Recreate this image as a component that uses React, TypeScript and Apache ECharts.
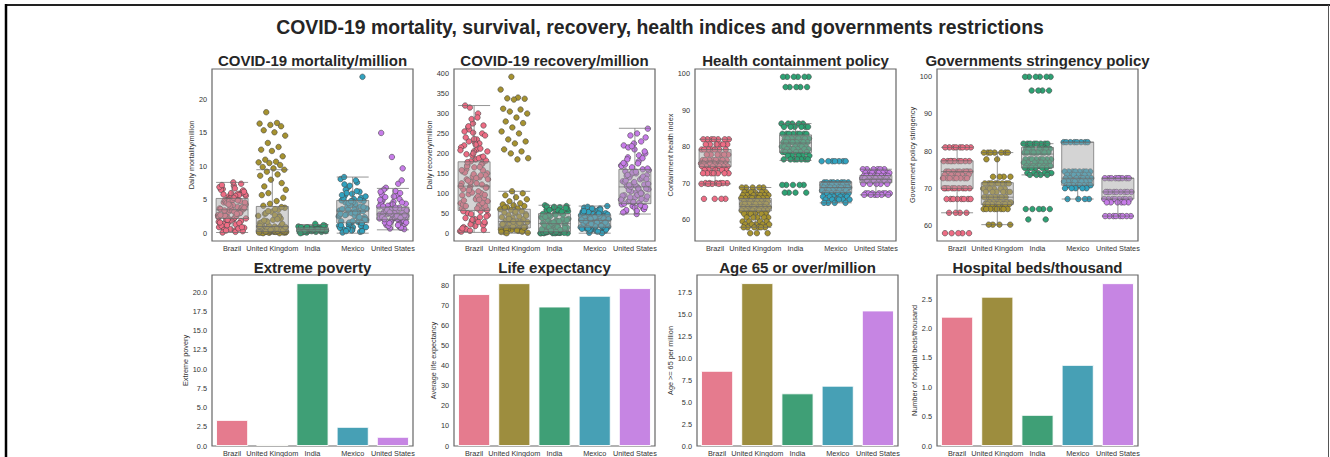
import React, { useEffect, useRef } from 'react';
import * as echarts from 'echarts';

const FONT = '"Liberation Sans", Arial, Helvetica, sans-serif';

const countries = ['Brazil', 'United Kingdom', 'India', 'Mexico', 'United States'];
const pointColors = ['#ee6c84', '#a6922f', '#2ea274', '#31a2bf', '#c77ce9'];
const barColors = ['#e57b8e', '#9d8d3e', '#3f9f76', '#47a0b5', '#c685e3'];

const mainTitle = 'COVID-19 mortality, survival, recovery, health indices and governments restrictions';

// ---- COVID-19 mortality / million (daily) ----
const mortBrazil = [3.2, 5.6, 0.4, 2.8, 6.1, 4.4, 1.2, 3.9, 5.0, 0.8, 2.1, 6.6, 4.8, 3.5, 1.7, 5.3, 2.5, 0.3, 4.1, 6.9, 3.0, 1.5, 5.8, 2.3, 4.6, 7.4, 0.6, 3.7, 5.1, 2.0, 6.3, 4.2, 1.0, 3.3, 5.5, 2.7, 0.2, 4.9, 6.0, 1.9, 3.6, 5.9, 2.4, 4.0, 7.1, 1.4, 3.1, 5.2, 0.9, 2.6, 4.7, 6.4, 3.4, 1.1, 5.7, 2.2, 4.3, 6.7, 0.5, 3.8, 5.4, 1.6, 2.9, 4.5, 6.2, 7.6, 0.1, 3.0, 4.8, 2.4, 1.3, 2.6, 3.9, 5.5, 6.5, 0.7, 2.0, 4.6, 3.2, 5.8, 1.8, 4.1, 6.9, 2.9, 0.4, 3.6, 5.0, 7.2, 1.5, 4.3, 2.2, 5.6, 3.4, 0.9, 6.0, 2.7, 4.9, 1.2, 3.8, 5.3];
const mortUK = [0.1, 0.2, 0.1, 0.3, 0.4, 0.2, 0.5, 0.6, 0.3, 0.8, 0.9, 0.1, 1.0, 0.7, 1.2, 0.4, 1.5, 0.2, 1.8, 0.6, 2.0, 0.3, 2.3, 1.1, 2.6, 0.5, 2.9, 1.4, 3.2, 0.8, 3.5, 1.7, 3.8, 0.2, 4.1, 2.2, 4.4, 1.0, 4.8, 3.0, 5.3, 0.4, 5.7, 2.6, 6.0, 6.5, 3.6, 7.0, 7.5, 8.0, 8.6, 8.8, 9.2, 9.5, 9.7, 9.9, 10.2, 10.5, 10.6, 10.7, 11.0, 11.5, 12.3, 12.5, 12.9, 13.5, 14.6, 15.1, 15.4, 16.0, 16.2, 16.4, 16.5, 18.1, 0.1, 0.3, 1.3, 0.0, 0.1, 0.2, 0.2, 0.3, 0.4, 0.5, 0.1, 0.3, 0.6, 0.2, 0.4, 0.0, 0.5, 0.3, 0.1, 0.7, 0.2, 0.4, 0.6, 1.6, 2.4, 3.3, 0.9, 2.7, 1.9, 3.9, 0.5, 1.1, 2.1];
const mortIndia = [0.3, 0.5, 0.7, 0.2, 0.6, 0.4, 0.9, 0.1, 0.5, 0.8, 0.3, 0.6, 0.4, 1.0, 0.2, 0.7, 0.5, 0.3, 0.9, 0.6, 0.4, 1.1, 0.5, 0.2, 0.8, 0.6, 0.3, 0.7, 0.4, 1.2, 0.5, 0.1, 0.6, 0.8, 0.4, 1.4, 0.3, 0.5, 0.7, 0.0, 0.6, 0.9];
const mortMexico = [0.2, 1.0, 2.5, 3.8, 4.6, 0.7, 5.9, 1.8, 3.1, 6.8, 2.2, 4.1, 0.4, 5.3, 1.5, 3.4, 7.6, 2.8, 4.8, 0.9, 3.6, 6.2, 1.3, 2.0, 4.4, 5.6, 0.3, 3.0, 8.1, 1.7, 3.9, 2.4, 5.1, 0.6, 4.0, 7.1, 1.1, 2.9, 6.5, 3.3, 0.5, 4.9, 1.9, 3.5, 5.5, 2.6, 8.4, 1.4, 4.3, 0.8, 3.2, 6.0, 2.1, 4.7, 0.1, 5.0, 1.6, 3.7, 7.9, 2.7, 23.4, 0.4, 1.2, 2.3, 0.6, 2.0, 3.5, 5.2, 1.1, 4.2, 2.7, 6.3, 0.3, 3.9, 1.8, 5.7, 2.4, 4.5, 0.9, 3.1, 7.3, 1.5, 4.8, 2.9];
const mortUS = [2.5, 3.1, 1.8, 4.2, 2.8, 5.6, 1.2, 3.5, 2.2, 4.8, 0.9, 3.9, 2.6, 6.3, 1.6, 3.0, 2.0, 4.5, 7.4, 2.9, 1.4, 3.6, 5.2, 2.4, 0.7, 4.0, 3.3, 6.8, 1.9, 2.7, 5.8, 3.8, 1.1, 4.4, 2.3, 3.2, 7.9, 1.7, 5.0, 2.1, 3.7, 0.6, 4.7, 2.8, 6.0, 1.5, 3.4, 2.5, 5.4, 9.7, 11.4, 15.0, 1.3, 4.1, 2.0, 3.0, 6.5, 0.8, 3.6, 2.2, 2.6, 3.3, 1.9, 4.3, 2.4, 5.1, 3.0, 1.6, 3.8, 2.1, 4.6, 2.9, 6.2, 1.2, 3.5, 2.7, 5.5, 4.0, 2.3, 3.1];
// box stats: [low whisker, Q1, median, Q3, high whisker]
const mortBoxes = [[0.1, 2.2, 3.5, 5.2, 7.6], [0.0, 0.25, 1.0, 4.0, 9.5], [0.0, 0.3, 0.55, 0.8, 1.3], [0.0, 1.55, 3.3, 4.9, 8.4], [0.5, 2.0, 2.9, 3.9, 6.7]];
const mortTicks = [0, 5, 10, 15, 20];

// ---- COVID-19 recovery / million (daily) ----
const recBrazil = [118, 45, 210, 160, 8, 275, 95, 140, 230, 60, 185, 12, 250, 130, 75, 300, 170, 25, 205, 110, 55, 315, 150, 88, 240, 20, 195, 125, 70, 265, 145, 35, 220, 100, 180, 5, 290, 135, 65, 200, 155, 40, 260, 115, 85, 320, 175, 30, 215, 105, 50, 245, 165, 15, 190, 128, 80, 235, 10, 270, 142, 62, 225, 98, 182, 18, 255, 122, 48, 208, 92, 168, 28, 148, 72, 212, 112, 58, 138, 38, 158, 102, 4, 188, 132, 68, 228, 82, 172, 22, 135, 62, 198, 88, 252, 12, 166, 108, 42, 222, 152, 76, 286, 118, 28, 178, 96, 236, 55, 145, 6, 205, 125, 68, 192, 34, 158, 84, 268, 114];
const recUK = [2, 5, 8, 10, 12, 14, 16, 18, 20, 22, 25, 28, 30, 32, 35, 38, 40, 42, 45, 48, 50, 52, 55, 58, 60, 62, 65, 68, 70, 72, 75, 80, 85, 90, 95, 100, 105, 3, 6, 9, 15, 19, 24, 27, 33, 1, 7, 11, 13, 17, 21, 26, 36, 44, 54, 64, 4, 392, 360, 340, 338, 337, 335, 312, 310, 305, 300, 290, 280, 276, 265, 255, 250, 235, 230, 225, 210, 205, 200, 188, 185, 0, 14, 29, 23];
const recIndia = [0, 1, 2, 3, 0, 5, 1, 4, 8, 2, 12, 6, 15, 0, 18, 3, 22, 9, 25, 1, 28, 14, 32, 5, 35, 20, 40, 2, 44, 26, 48, 0, 52, 11, 55, 30, 58, 7, 62, 38, 65, 16, 68, 46, 70, 4, 24, 0, 57, 34, 13, 66, 1, 50, 42, 61, 19, 3, 47, 2, 10, 30, 45, 63, 0, 21, 54, 6, 36, 15, 67, 1, 27, 48, 8, 58, 33, 3, 41];
const recMexico = [2, 8, 15, 22, 30, 35, 40, 46, 52, 60, 68, 5, 12, 18, 25, 32, 38, 44, 50, 56, 64, 3, 10, 16, 28, 34, 42, 48, 54, 62, 1, 14, 20, 26, 31, 36, 45, 58, 66, 6, 19, 24, 33, 39, 47, 27, 29, 37, 21, 11, 43, 53, 9, 17, 41, 0, 23, 35, 4, 13, 26, 38, 51, 59, 7, 22, 44, 30, 16, 62, 34, 49, 12, 27, 40, 55, 18, 36];
const recUS = [48, 55, 62, 68, 72, 76, 80, 85, 90, 95, 100, 105, 110, 115, 118, 122, 126, 130, 135, 140, 145, 150, 155, 160, 165, 170, 180, 190, 200, 210, 220, 230, 245, 262, 250, 58, 66, 78, 88, 98, 108, 112, 120, 128, 138, 148, 158, 175, 185, 205, 225, 52, 70, 82, 92, 102, 132, 142, 152, 168, 195, 215, 240, 64, 74, 86, 116, 124, 96, 144, 60, 78, 94, 104, 120, 136, 154, 172, 188, 218, 84, 112, 146, 66, 128, 176, 100, 90, 162, 56];
const recBoxes = [[2, 57, 118, 179, 320], [0, 13, 29, 60, 105], [0, 4, 24, 49, 70], [0, 15, 32, 46, 68], [48, 74, 116, 160, 263]];
const recTicks = [0, 50, 100, 150, 200, 250, 300, 350, 400];

// ---- Containment health index: [level, number of days] ----
const hcBrazil = [[82.0, 7], [80.6, 6], [79.2, 7], [77.8, 6], [76.3, 8], [75.4, 9], [74.6, 7], [73.6, 5], [72.7, 7], [70.0, 6], [69.8, 4], [65.7, 4]];
const hcUK = [[68.8, 5], [67.5, 6], [66.7, 7], [65.9, 8], [65.0, 8], [64.3, 9], [63.4, 9], [62.5, 8], [61.6, 6], [60.6, 5], [59.5, 4], [58.7, 5], [57.9, 6], [56.3, 3]];
const hcIndia = [[99.1, 6], [96.3, 5], [86.3, 5], [85.4, 6], [83.5, 8], [82.2, 8], [81.2, 9], [80.0, 7], [79.3, 6], [78.5, 6], [77.5, 5], [76.5, 7], [69.5, 5], [67.4, 4]];
const hcMexico = [[76.0, 7], [70.2, 8], [69.5, 8], [68.8, 9], [68.0, 8], [67.2, 7], [66.3, 6], [65.5, 6], [64.6, 4]];
const hcUS = [[73.8, 6], [72.8, 8], [72.0, 9], [71.3, 8], [70.6, 7], [69.8, 5], [67.2, 7], [66.8, 6]];
const hcBoxes = [[69.8, 74.5, 75.8, 79.2, 82.0], [57.9, 62.4, 63.6, 65.8, 68.8], [76.2, 78.4, 81.0, 83.2, 86.3], [64.6, 67.4, 68.8, 70.3, 70.4], [66.8, 70.1, 71.0, 72.1, 73.8]];
const hcTicks = [60, 70, 80, 90, 100];

// ---- Government stringency index: [level, number of days] ----
const gsBrazil = [[81.0, 8], [77.3, 9], [74.5, 9], [73.6, 6], [72.7, 8], [70.0, 9], [67.1, 8], [63.4, 4], [57.9, 5]];
const gsUK = [[79.6, 7], [77.8, 2], [73.1, 4], [71.3, 8], [69.9, 6], [69.0, 6], [67.6, 7], [66.2, 9], [65.7, 8], [64.4, 8], [60.2, 4]];
const gsIndia = [[100.0, 6], [96.3, 4], [82.0, 8], [80.6, 7], [79.6, 9], [77.8, 8], [76.9, 7], [76.0, 8], [75.5, 6], [74.1, 6], [73.6, 4], [64.4, 5], [61.6, 2]];
const gsMexico = [[82.4, 8], [74.5, 8], [73.6, 7], [72.7, 7], [71.8, 8], [70.8, 9], [70.0, 5], [67.1, 4]];
const gsUS = [[72.7, 9], [69.0, 9], [67.1, 8], [66.2, 6], [62.5, 8]];
const gsBoxes = [[63.4, 69.9, 74.5, 77.4, 81.0], [60.2, 65.6, 67.6, 71.5, 79.6], [73.6, 75.5, 79.2, 81.0, 82.0], [67.1, 70.8, 72.7, 82.4, 82.4], [62.5, 67.1, 69.0, 72.7, 72.7]];
const gsTicks = [60, 70, 80, 90, 100];

// ---- Country indicators (bars) ----
const poverty = [3.4, 0.2, 21.2, 2.5, 1.2];
const lifeExp = [75.88, 81.32, 69.66, 75.05, 78.86];
const aged65 = [8.55, 18.52, 5.99, 6.86, 15.41];
const beds = [2.2, 2.54, 0.53, 1.38, 2.77];
const povTicks = [0, 2.5, 5, 7.5, 10, 12.5, 15, 17.5, 20];
const lifeTicks = [0, 10, 20, 30, 40, 50, 60, 70, 80];
const ageTicks = [0, 2.5, 5, 7.5, 10, 12.5, 15, 17.5];
const bedsTicks = [0, 0.5, 1, 1.5, 2, 2.5];

const expand = (rle: number[][]) => {
  const out: number[] = [];
  rle.forEach(([v, n]) => { for (let i = 0; i < n; i++) out.push(v); });
  return out;
};

// deterministic low-discrepancy jitter (golden ratio sequence)
const jitter = (k: number) => ((((k * 0.6180339887 + 0.37) % 1) + 1) % 1 - 0.5) * 0.7;

const stripPanels = [
  { title: 'COVID-19 mortality/million', yName: 'Daily mortality/million', groups: [mortBrazil, mortUK, mortIndia, mortMexico, mortUS], boxes: mortBoxes, ticks: mortTicks, min: -1.17, max: 24.57, dec: 0 },
  { title: 'COVID-19 recovery/million', yName: 'Daily recovery/million', groups: [recBrazil, recUK, recIndia, recMexico, recUS], boxes: recBoxes, ticks: recTicks, min: -19.6, max: 411.6, dec: 0 },
  { title: 'Health containment policy', yName: 'Containment health index', groups: [hcBrazil, hcUK, hcIndia, hcMexico, hcUS].map(expand), boxes: hcBoxes, ticks: hcTicks, min: 54.16, max: 101.24, dec: 0 },
  { title: 'Governments stringency policy', yName: 'Government policy stringency', groups: [gsBrazil, gsUK, gsIndia, gsMexico, gsUS].map(expand), boxes: gsBoxes, ticks: gsTicks, min: 55.8, max: 102.1, dec: 0 },
];

const barPanels = [
  { title: 'Extreme poverty', yName: 'Extreme povery', values: poverty, ticks: povTicks, max: 22.26, dec: 1 },
  { title: 'Life expectancy', yName: 'Average life expectancy', values: lifeExp, ticks: lifeTicks, max: 85.39, dec: 0 },
  { title: 'Age 65 or over/million', yName: 'Age >= 65 per million', values: aged65, ticks: ageTicks, max: 19.44, dec: 1 },
  { title: 'Hospital beds/thousand', yName: 'Number of hospital beds/thousand', values: beds, ticks: bedsTicks, max: 2.9085, dec: 1 },
];

// layout (pixels)
const topLefts = [212, 454, 695, 937];
const botLefts = [212, 454, 697, 937];
const topNameGaps = [15.5, 19.5, 14, 20.5];
const botNameGaps = [20.5, 15.5, 23.5, 17.5];
const PW = 201;

function buildOption() {
  const grids: any[] = [];
  const xAxes: any[] = [];
  const yAxes: any[] = [];
  const series: any[] = [];
  const graphics: any[] = [];

  const gridStyle = { show: true, borderColor: '#666', borderWidth: 1.2, backgroundColor: 'transparent' };
  const labelStyle = { fontSize: 7.3, color: '#333', fontFamily: FONT };

  const addTitle = (text: string, x: number, y: number, size: number) => {
    graphics.push({
      type: 'text', x, y, silent: true,
      style: { text, fill: '#262626', font: `bold ${size}px ${FONT}`, align: 'center', verticalAlign: 'middle', textAlign: 'center', textVerticalAlign: 'middle' },
    });
  };

  const catAxis = (g: number) => ({
    type: 'category', gridIndex: g, data: countries, boundaryGap: true,
    axisLine: { show: false }, axisTick: { show: false }, splitLine: { show: false },
    axisLabel: { ...labelStyle, interval: 0, margin: 4 },
  });
  const valAxis = (g: number, p: any, nameGap: number) => ({
    type: 'value', gridIndex: g, min: p.min ?? 0, max: p.max,
    name: p.yName, nameLocation: 'middle', nameRotate: 90, nameGap,
    nameTextStyle: { ...labelStyle },
    axisLine: { show: false }, axisTick: { show: false }, splitLine: { show: false },
    axisLabel: {
      ...labelStyle, margin: 5, customValues: p.ticks,
      formatter: (v: number) => (p.dec ? v.toFixed(p.dec) : String(v)),
    },
  });

  stripPanels.forEach((p, i) => {
    const left = topLefts[i];
    grids.push({ ...gridStyle, left, top: 69, width: PW, height: 172 });
    addTitle(p.title, left + PW / 2, 60, 15);
  });
  barPanels.forEach((p, i) => {
    const left = botLefts[i];
    grids.push({ ...gridStyle, left, top: 275, width: PW, height: 171 });
    addTitle(p.title, left + PW / 2, 267, 15);
  });

  for (let g = 0; g < 8; g++) xAxes.push(catAxis(g));
  for (let g = 0; g < 4; g++) xAxes.push({ type: 'value', gridIndex: g, min: -0.5, max: 4.5, show: false });
  stripPanels.forEach((p, i) => yAxes.push(valAxis(i, p, topNameGaps[i])));
  barPanels.forEach((p, i) => yAxes.push(valAxis(4 + i, p, botNameGaps[i])));

  stripPanels.forEach((p, i) => {
    p.groups.forEach((vals: number[], c: number) => {
      series.push({
        type: 'scatter', xAxisIndex: 8 + i, yAxisIndex: i, z: 2,
        symbolSize: 5.5,
        itemStyle: { color: pointColors[c], borderColor: '#474747', borderWidth: 0.6, opacity: 1 },
        data: vals.map((v, k) => [c + jitter(k + c * 11), v]),
      });
    });
    series.push({
      type: 'boxplot', xAxisIndex: i, yAxisIndex: i, z: 3,
      boxWidth: [32, 32],
      itemStyle: { color: 'rgba(160,160,160,0.45)', borderColor: 'rgba(105,105,105,0.7)', borderWidth: 1 },
      data: p.boxes,
    });
  });

  barPanels.forEach((p, i) => {
    series.push({
      type: 'bar', xAxisIndex: 4 + i, yAxisIndex: 4 + i,
      barCategoryGap: '20%',
      data: p.values.map((v, c) => ({ value: v, itemStyle: { color: barColors[c] } })),
      itemStyle: { borderColor: 'rgba(255,255,255,0.9)', borderWidth: 1 },
    });
  });

  addTitle(mainTitle, 660, 27, 19.4);

  // figure frame
  graphics.push({ type: 'line', silent: true, shape: { x1: 5, y1: 5, x2: 1330, y2: 5 }, style: { stroke: '#222', lineWidth: 2 } });
  graphics.push({ type: 'line', silent: true, shape: { x1: 6, y1: 4, x2: 6, y2: 457 }, style: { stroke: '#000', lineWidth: 2.5 } });
  graphics.push({ type: 'line', silent: true, shape: { x1: 1328.5, y1: 5, x2: 1328.5, y2: 457 }, style: { stroke: '#555', lineWidth: 1 } });

  return {
    animation: false,
    backgroundColor: '#ffffff',
    textStyle: { fontFamily: FONT },
    grid: grids,
    xAxis: xAxes,
    yAxis: yAxes,
    series,
    graphic: graphics,
  };
}

export default function App() {
  const ref = useRef<HTMLDivElement>(null);
  useEffect(() => {
    document.body.style.margin = '0';
    const chart = echarts.init(ref.current as HTMLDivElement, null, { renderer: 'svg' });
    chart.setOption(buildOption() as any);
    return () => chart.dispose();
  }, []);
  return <div ref={ref} style={{ width: 1330, height: 457 }} />;
}
